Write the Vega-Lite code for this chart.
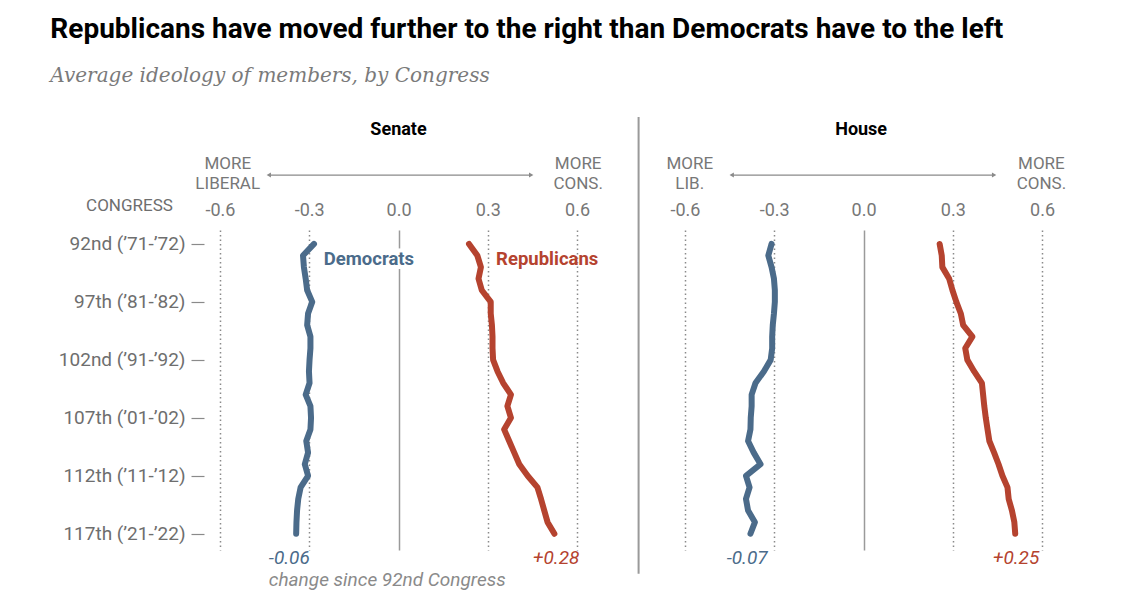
{
  "$schema": "https://vega.github.io/schema/vega-lite/v6.json",
  "padding": {"left": 50, "top": 16, "right": 10, "bottom": 10},
  "background": "white",
  "title": {
    "text": "Republicans have moved further to the right than Democrats have to the left",
    "subtitle": "Average ideology of members, by Congress",
    "anchor": "start",
    "frame": "bounds",
    "font": "Roboto",
    "fontSize": 28,
    "fontWeight": 700,
    "color": "#000000",
    "subtitleFont": "DejaVu Serif",
    "subtitleFontStyle": "italic",
    "subtitleFontSize": 20,
    "subtitleColor": "#7a7a7a",
    "subtitlePadding": 22,
    "offset": 30,
    "dx": -8
  },
  "config": {
    "view": {"stroke": null},
    "font": "Roboto",
    "text": {"font": "Roboto"}
  },
  "datasets": {
    "ideology": [
      {"chamber": "Senate", "party": "Democrats", "congress": 92, "value": -0.284},
      {"chamber": "Senate", "party": "Democrats", "congress": 93, "value": -0.321},
      {"chamber": "Senate", "party": "Democrats", "congress": 94, "value": -0.318},
      {"chamber": "Senate", "party": "Democrats", "congress": 95, "value": -0.312},
      {"chamber": "Senate", "party": "Democrats", "congress": 96, "value": -0.307},
      {"chamber": "Senate", "party": "Democrats", "congress": 97, "value": -0.290},
      {"chamber": "Senate", "party": "Democrats", "congress": 98, "value": -0.304},
      {"chamber": "Senate", "party": "Democrats", "congress": 99, "value": -0.307},
      {"chamber": "Senate", "party": "Democrats", "congress": 100, "value": -0.296},
      {"chamber": "Senate", "party": "Democrats", "congress": 101, "value": -0.296},
      {"chamber": "Senate", "party": "Democrats", "congress": 102, "value": -0.299},
      {"chamber": "Senate", "party": "Democrats", "congress": 103, "value": -0.301},
      {"chamber": "Senate", "party": "Democrats", "congress": 104, "value": -0.299},
      {"chamber": "Senate", "party": "Democrats", "congress": 105, "value": -0.312},
      {"chamber": "Senate", "party": "Democrats", "congress": 106, "value": -0.296},
      {"chamber": "Senate", "party": "Democrats", "congress": 107, "value": -0.294},
      {"chamber": "Senate", "party": "Democrats", "congress": 108, "value": -0.296},
      {"chamber": "Senate", "party": "Democrats", "congress": 109, "value": -0.310},
      {"chamber": "Senate", "party": "Democrats", "congress": 110, "value": -0.304},
      {"chamber": "Senate", "party": "Democrats", "congress": 111, "value": -0.315},
      {"chamber": "Senate", "party": "Democrats", "congress": 112, "value": -0.304},
      {"chamber": "Senate", "party": "Democrats", "congress": 113, "value": -0.329},
      {"chamber": "Senate", "party": "Democrats", "congress": 114, "value": -0.337},
      {"chamber": "Senate", "party": "Democrats", "congress": 115, "value": -0.341},
      {"chamber": "Senate", "party": "Democrats", "congress": 116, "value": -0.343},
      {"chamber": "Senate", "party": "Democrats", "congress": 117, "value": -0.344},
      {"chamber": "Senate", "party": "Republicans", "congress": 92, "value": 0.237},
      {"chamber": "Senate", "party": "Republicans", "congress": 93, "value": 0.265},
      {"chamber": "Senate", "party": "Republicans", "congress": 94, "value": 0.277},
      {"chamber": "Senate", "party": "Republicans", "congress": 95, "value": 0.269},
      {"chamber": "Senate", "party": "Republicans", "congress": 96, "value": 0.280},
      {"chamber": "Senate", "party": "Republicans", "congress": 97, "value": 0.310},
      {"chamber": "Senate", "party": "Republicans", "congress": 98, "value": 0.310},
      {"chamber": "Senate", "party": "Republicans", "congress": 99, "value": 0.314},
      {"chamber": "Senate", "party": "Republicans", "congress": 100, "value": 0.316},
      {"chamber": "Senate", "party": "Republicans", "congress": 101, "value": 0.316},
      {"chamber": "Senate", "party": "Republicans", "congress": 102, "value": 0.318},
      {"chamber": "Senate", "party": "Republicans", "congress": 103, "value": 0.333},
      {"chamber": "Senate", "party": "Republicans", "congress": 104, "value": 0.352},
      {"chamber": "Senate", "party": "Republicans", "congress": 105, "value": 0.378},
      {"chamber": "Senate", "party": "Republicans", "congress": 106, "value": 0.366},
      {"chamber": "Senate", "party": "Republicans", "congress": 107, "value": 0.378},
      {"chamber": "Senate", "party": "Republicans", "congress": 108, "value": 0.355},
      {"chamber": "Senate", "party": "Republicans", "congress": 109, "value": 0.372},
      {"chamber": "Senate", "party": "Republicans", "congress": 110, "value": 0.389},
      {"chamber": "Senate", "party": "Republicans", "congress": 111, "value": 0.406},
      {"chamber": "Senate", "party": "Republicans", "congress": 112, "value": 0.434},
      {"chamber": "Senate", "party": "Republicans", "congress": 113, "value": 0.467},
      {"chamber": "Senate", "party": "Republicans", "congress": 114, "value": 0.479},
      {"chamber": "Senate", "party": "Republicans", "congress": 115, "value": 0.490},
      {"chamber": "Senate", "party": "Republicans", "congress": 116, "value": 0.501},
      {"chamber": "Senate", "party": "Republicans", "congress": 117, "value": 0.524},
      {"chamber": "House", "party": "Democrats", "congress": 92, "value": -0.309},
      {"chamber": "House", "party": "Democrats", "congress": 93, "value": -0.320},
      {"chamber": "House", "party": "Democrats", "congress": 94, "value": -0.309},
      {"chamber": "House", "party": "Democrats", "congress": 95, "value": -0.301},
      {"chamber": "House", "party": "Democrats", "congress": 96, "value": -0.298},
      {"chamber": "House", "party": "Democrats", "congress": 97, "value": -0.298},
      {"chamber": "House", "party": "Democrats", "congress": 98, "value": -0.301},
      {"chamber": "House", "party": "Democrats", "congress": 99, "value": -0.305},
      {"chamber": "House", "party": "Democrats", "congress": 100, "value": -0.307},
      {"chamber": "House", "party": "Democrats", "congress": 101, "value": -0.307},
      {"chamber": "House", "party": "Democrats", "congress": 102, "value": -0.312},
      {"chamber": "House", "party": "Democrats", "congress": 103, "value": -0.335},
      {"chamber": "House", "party": "Democrats", "congress": 104, "value": -0.363},
      {"chamber": "House", "party": "Democrats", "congress": 105, "value": -0.376},
      {"chamber": "House", "party": "Democrats", "congress": 106, "value": -0.376},
      {"chamber": "House", "party": "Democrats", "congress": 107, "value": -0.379},
      {"chamber": "House", "party": "Democrats", "congress": 108, "value": -0.380},
      {"chamber": "House", "party": "Democrats", "congress": 109, "value": -0.388},
      {"chamber": "House", "party": "Democrats", "congress": 110, "value": -0.369},
      {"chamber": "House", "party": "Democrats", "congress": 111, "value": -0.346},
      {"chamber": "House", "party": "Democrats", "congress": 112, "value": -0.395},
      {"chamber": "House", "party": "Democrats", "congress": 113, "value": -0.383},
      {"chamber": "House", "party": "Democrats", "congress": 114, "value": -0.395},
      {"chamber": "House", "party": "Democrats", "congress": 115, "value": -0.388},
      {"chamber": "House", "party": "Democrats", "congress": 116, "value": -0.365},
      {"chamber": "House", "party": "Democrats", "congress": 117, "value": -0.380},
      {"chamber": "House", "party": "Republicans", "congress": 92, "value": 0.256},
      {"chamber": "House", "party": "Republicans", "congress": 93, "value": 0.263},
      {"chamber": "House", "party": "Republicans", "congress": 94, "value": 0.265},
      {"chamber": "House", "party": "Republicans", "congress": 95, "value": 0.288},
      {"chamber": "House", "party": "Republicans", "congress": 96, "value": 0.299},
      {"chamber": "House", "party": "Republicans", "congress": 97, "value": 0.312},
      {"chamber": "House", "party": "Republicans", "congress": 98, "value": 0.327},
      {"chamber": "House", "party": "Republicans", "congress": 99, "value": 0.335},
      {"chamber": "House", "party": "Republicans", "congress": 100, "value": 0.366},
      {"chamber": "House", "party": "Republicans", "congress": 101, "value": 0.342},
      {"chamber": "House", "party": "Republicans", "congress": 102, "value": 0.349},
      {"chamber": "House", "party": "Republicans", "congress": 103, "value": 0.372},
      {"chamber": "House", "party": "Republicans", "congress": 104, "value": 0.398},
      {"chamber": "House", "party": "Republicans", "congress": 105, "value": 0.402},
      {"chamber": "House", "party": "Republicans", "congress": 106, "value": 0.406},
      {"chamber": "House", "party": "Republicans", "congress": 107, "value": 0.411},
      {"chamber": "House", "party": "Republicans", "congress": 108, "value": 0.417},
      {"chamber": "House", "party": "Republicans", "congress": 109, "value": 0.423},
      {"chamber": "House", "party": "Republicans", "congress": 110, "value": 0.439},
      {"chamber": "House", "party": "Republicans", "congress": 111, "value": 0.454},
      {"chamber": "House", "party": "Republicans", "congress": 112, "value": 0.467},
      {"chamber": "House", "party": "Republicans", "congress": 113, "value": 0.484},
      {"chamber": "House", "party": "Republicans", "congress": 114, "value": 0.488},
      {"chamber": "House", "party": "Republicans", "congress": 115, "value": 0.499},
      {"chamber": "House", "party": "Republicans", "congress": 116, "value": 0.507},
      {"chamber": "House", "party": "Republicans", "congress": 117, "value": 0.510}
    ]
  },
  "spacing": 108,
  "bounds": "flush",
  "hconcat": [
    {
      "width": 357,
      "height": 320,
      "layer": [
        {
          "data": {"name": "ideology"},
          "transform": [{"filter": "datum.chamber === 'Senate'"}],
          "mark": {"type": "line", "strokeWidth": 6, "strokeCap": "round", "strokeJoin": "round"},
          "encoding": {
            "x": {
              "field": "value", "type": "quantitative",
              "scale": {"domain": [-0.6, 0.6], "nice": false, "zero": false},
              "axis": {
                "orient": "top", "title": null, "values": [-0.6, -0.3, 0, 0.3, 0.6],
                "labelExpr": "replace(format(datum.value, '.1f'), '\u2212', '-')",
                "labelFlush": false,
                "domain": false, "ticks": false,
                "labelFont": "Roboto", "labelFontSize": 18, "labelColor": "#777777", "labelPadding": 11,
                "grid": true,
                "gridColor": {"condition": {"test": "datum.value === 0", "value": "#9a9a9a"}, "value": "#8a8a8a"},
                "gridDash": {"condition": {"test": "datum.value === 0", "value": []}, "value": [1.5, 3]},
                "gridWidth": {"condition": {"test": "datum.value === 0", "value": 1.5}, "value": 1.5}
              }
            },
            "y": {
              "field": "congress", "type": "quantitative",
              "scale": {"domain": [90.8, 118.4], "nice": false, "zero": false, "reverse": true},
              "axis": {
                "orient": "left", "values": [92, 97, 102, 107, 112, 117],
                "labelExpr": "{'92': '92nd (\u201971-\u201972)', '97': '97th (\u201981-\u201982)', '102': '102nd (\u201991-\u201992)', '107': '107th (\u201901-\u201902)', '112': '112th (\u201911-\u201912)', '117': '117th (\u201921-\u201922)'}[datum.value]",
                "offset": 16, "domain": false, "grid": false,
                "ticks": true, "tickSize": 13, "tickColor": "#8a8a8a", "tickWidth": 1.2,
                "labelPadding": 6, "labelFont": "Roboto", "labelFontSize": 19, "labelColor": "#6e6e6e",
                "title": "CONGRESS", "titleAngle": 0, "titleFont": "Roboto", "titleFontSize": 17,
                "titleFontWeight": "normal", "titleColor": "#6e6e6e",
                "titleAlign": "center", "titleBaseline": "middle", "titleX": -75, "titleY": -25
              }
            },
            "color": {
              "field": "party", "type": "nominal",
              "scale": {"domain": ["Democrats", "Republicans"], "range": ["#4b6b8a", "#b5432f"]},
              "legend": null
            },
            "order": {"field": "congress", "type": "quantitative"}
          }
        },
        {
          "data": {"values": [{}]},
          "mark": {"type": "text", "text": "Democrats", "align": "left", "baseline": "middle", "font": "Roboto", "fontSize": 18.5, "fontWeight": "bold", "stroke": "white", "strokeWidth": 8, "fill": "white"},
          "encoding": {"x": {"datum": -0.251}, "y": {"datum": 93.3}}
        },
        {
          "data": {"values": [{}]},
          "mark": {"type": "text", "text": "Democrats", "align": "left", "baseline": "middle", "font": "Roboto", "fontSize": 18.5, "fontWeight": "bold", "color": "#4b6b8a"},
          "encoding": {"x": {"datum": -0.251}, "y": {"datum": 93.3}}
        },
        {
          "data": {"values": [{}]},
          "mark": {"type": "text", "text": "Republicans", "align": "left", "baseline": "middle", "font": "Roboto", "fontSize": 18.5, "fontWeight": "bold", "color": "#b5432f"},
          "encoding": {"x": {"datum": 0.328}, "y": {"datum": 93.3}}
        },
        {
          "data": {"values": [{}]},
          "mark": {"type": "text", "text": "Senate", "align": "center", "baseline": "middle", "font": "Roboto", "fontSize": 18, "fontWeight": "bold", "color": "#000000"},
          "encoding": {"x": {"datum": 0}, "y": {"datum": 82.2}}
        },
        {
          "data": {"values": [{}]},
          "mark": {"type": "text", "text": ["MORE", "LIBERAL"], "lineHeight": 20, "align": "center", "baseline": "middle", "font": "Roboto", "fontSize": 17, "color": "#777777"},
          "encoding": {"x": {"datum": -0.574}, "y": {"datum": 85.15}}
        },
        {
          "data": {"values": [{}]},
          "mark": {"type": "text", "text": ["MORE", "CONS."], "lineHeight": 20, "align": "center", "baseline": "middle", "font": "Roboto", "fontSize": 17, "color": "#777777"},
          "encoding": {"x": {"datum": 0.604}, "y": {"datum": 85.15}}
        },
        {
          "data": {"values": [{}]},
          "mark": {"type": "rule", "color": "#8a8a8a", "strokeWidth": 1.2},
          "encoding": {"x": {"datum": -0.436}, "x2": {"datum": 0.446}, "y": {"datum": 86.06}}
        },
        {
          "data": {"values": [{}]},
          "mark": {"type": "point", "shape": "triangle-left", "filled": true, "size": 25, "color": "#8a8a8a", "opacity": 1},
          "encoding": {"x": {"datum": -0.436}, "y": {"datum": 86.06}}
        },
        {
          "data": {"values": [{}]},
          "mark": {"type": "point", "shape": "triangle-right", "filled": true, "size": 25, "color": "#8a8a8a", "opacity": 1},
          "encoding": {"x": {"datum": 0.446}, "y": {"datum": 86.06}}
        },
        {
          "data": {"values": [{}]},
          "mark": {"type": "text", "text": "-0.06", "align": "left", "baseline": "middle", "font": "Roboto", "fontSize": 19, "fontStyle": "italic", "color": "#4b6b8a"},
          "encoding": {"x": {"datum": -0.436}, "y": {"datum": 119.08}}
        },
        {
          "data": {"values": [{}]},
          "mark": {"type": "text", "text": "+0.28", "align": "right", "baseline": "middle", "font": "Roboto", "fontSize": 19, "fontStyle": "italic", "color": "#b5432f"},
          "encoding": {"x": {"datum": 0.608}, "y": {"datum": 119.08}}
        },
        {
          "data": {"values": [{}]},
          "mark": {"type": "text", "text": "change since 92nd Congress", "align": "left", "baseline": "middle", "font": "Roboto", "fontSize": 19, "fontStyle": "italic", "color": "#8a8a8a"},
          "encoding": {"x": {"datum": -0.436}, "y": {"datum": 120.97}}
        }
      ]
    },
    {
      "width": 357,
      "height": 320,
      "layer": [
        {
          "data": {"name": "ideology"},
          "transform": [{"filter": "datum.chamber === 'House'"}],
          "mark": {"type": "line", "strokeWidth": 6, "strokeCap": "round", "strokeJoin": "round"},
          "encoding": {
            "x": {
              "field": "value", "type": "quantitative",
              "scale": {"domain": [-0.6, 0.6], "nice": false, "zero": false},
              "axis": {
                "orient": "top", "title": null, "values": [-0.6, -0.3, 0, 0.3, 0.6],
                "labelExpr": "replace(format(datum.value, '.1f'), '\u2212', '-')",
                "labelFlush": false,
                "domain": false, "ticks": false,
                "labelFont": "Roboto", "labelFontSize": 18, "labelColor": "#777777", "labelPadding": 11,
                "grid": true,
                "gridColor": {"condition": {"test": "datum.value === 0", "value": "#9a9a9a"}, "value": "#8a8a8a"},
                "gridDash": {"condition": {"test": "datum.value === 0", "value": []}, "value": [1.5, 3]},
                "gridWidth": {"condition": {"test": "datum.value === 0", "value": 1.5}, "value": 1.5}
              }
            },
            "y": {
              "field": "congress", "type": "quantitative",
              "scale": {"domain": [90.8, 118.4], "nice": false, "zero": false, "reverse": true},
              "axis": null
            },
            "color": {
              "field": "party", "type": "nominal",
              "scale": {"domain": ["Democrats", "Republicans"], "range": ["#4b6b8a", "#b5432f"]},
              "legend": null
            },
            "order": {"field": "congress", "type": "quantitative"}
          }
        },
        {
          "data": {"values": [{}]},
          "mark": {"type": "rule", "color": "#9a9a9a", "strokeWidth": 2},
          "encoding": {"x": {"datum": -0.756}, "y": {"datum": 81.06}, "y2": {"datum": 120.45}}
        },
        {
          "data": {"values": [{}]},
          "mark": {"type": "text", "text": "House", "align": "center", "baseline": "middle", "font": "Roboto", "fontSize": 18, "fontWeight": "bold", "color": "#000000"},
          "encoding": {"x": {"datum": -0.008}, "y": {"datum": 82.2}}
        },
        {
          "data": {"values": [{}]},
          "mark": {"type": "text", "text": ["MORE", "LIB."], "lineHeight": 20, "align": "center", "baseline": "middle", "font": "Roboto", "fontSize": 17, "color": "#777777"},
          "encoding": {"x": {"datum": -0.584}, "y": {"datum": 85.15}}
        },
        {
          "data": {"values": [{}]},
          "mark": {"type": "text", "text": ["MORE", "CONS."], "lineHeight": 20, "align": "center", "baseline": "middle", "font": "Roboto", "fontSize": 17, "color": "#777777"},
          "encoding": {"x": {"datum": 0.598}, "y": {"datum": 85.15}}
        },
        {
          "data": {"values": [{}]},
          "mark": {"type": "rule", "color": "#8a8a8a", "strokeWidth": 1.2},
          "encoding": {"x": {"datum": -0.443}, "x2": {"datum": 0.439}, "y": {"datum": 86.06}}
        },
        {
          "data": {"values": [{}]},
          "mark": {"type": "point", "shape": "triangle-left", "filled": true, "size": 25, "color": "#8a8a8a", "opacity": 1},
          "encoding": {"x": {"datum": -0.443}, "y": {"datum": 86.06}}
        },
        {
          "data": {"values": [{}]},
          "mark": {"type": "point", "shape": "triangle-right", "filled": true, "size": 25, "color": "#8a8a8a", "opacity": 1},
          "encoding": {"x": {"datum": 0.439}, "y": {"datum": 86.06}}
        },
        {
          "data": {"values": [{}]},
          "mark": {"type": "text", "text": "-0.07", "align": "left", "baseline": "middle", "font": "Roboto", "fontSize": 19, "fontStyle": "italic", "color": "#4b6b8a"},
          "encoding": {"x": {"datum": -0.46}, "y": {"datum": 119.08}}
        },
        {
          "data": {"values": [{}]},
          "mark": {"type": "text", "text": "+0.25", "align": "right", "baseline": "middle", "font": "Roboto", "fontSize": 19, "fontStyle": "italic", "color": "#b5432f"},
          "encoding": {"x": {"datum": 0.591}, "y": {"datum": 119.08}}
        }
      ]
    }
  ]
}
